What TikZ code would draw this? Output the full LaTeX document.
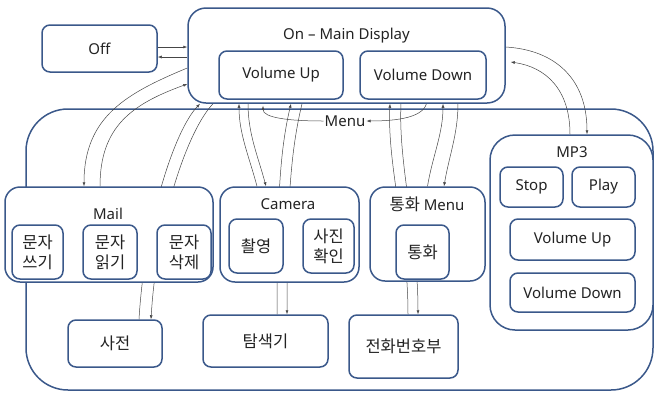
\documentclass[tikz,border=0pt]{standalone}
\usepackage{fontspec}
\setmainfont{Noto Sans}
\newfontfamily\kr{Noto Sans CJK KR}
\usetikzlibrary{arrows.meta}
\definecolor{boxblue}{RGB}{58,88,138}
\definecolor{wire}{RGB}{70,70,70}
\definecolor{ink}{RGB}{35,35,35}
\pgfdeclarelayer{bg}
\pgfdeclarelayer{wires}
\pgfsetlayers{bg,wires,main}
\begin{document}
\begin{tikzpicture}[x=1pt,y=-1pt,
  box/.style={draw=boxblue, line width=1.5pt, fill=white, rounded corners=8pt,
    inner sep=0pt, text=ink, font=\fontsize{15}{18}\selectfont},
  group/.style={box, rounded corners=15pt},
  kbox/.style={box, font=\kr\fontsize{16.5}{20}\selectfont, align=center},
  lbl/.style={text=ink, font=\fontsize{15}{18}\selectfont, inner sep=1pt},
  wirearrow/.style={draw=wire, line width=0.5pt, -{Latex[length=4pt,width=3pt]}},
]
\useasboundingbox (0,0) rectangle (654,392);

% outer frame holding the menu tree
\begin{pgfonlayer}{bg}
  \draw[draw=boxblue, line width=1.5pt, rounded corners=42pt] (26,109) rectangle (653,390);
\end{pgfonlayer}

% power states
\node[box, minimum width=115, minimum height=47] (off) at (99.5,48.5) {Off};
\node[group, rounded corners=18pt, minimum width=317, minimum height=95] (main) at (346.5,55.5) {};
\node[lbl] (mainlbl) at (346.5,36) {On – Main Display};
\node[box, minimum width=124, minimum height=48] (volup) at (281,75) {Volume Up};
\node[box, minimum width=126, minimum height=48] (voldown) at (423,75) {Volume Down};
\node[lbl] (menu) at (345,121) {Menu};

% mail
\node[group, minimum width=208, minimum height=95] (mail) at (109,234.5) {};
\node[lbl] (maillbl) at (108,214) {Mail};
\node[kbox, minimum width=51, minimum height=54] (write) at (37.5,252) {문자\\쓰기};
\node[kbox, minimum width=54, minimum height=54] (read) at (110,252) {문자\\읽기};
\node[kbox, minimum width=54, minimum height=54] (del) at (184,252) {문자\\삭제};

% camera
\node[group, minimum width=139, minimum height=95] (cam) at (289.5,234.5) {};
\node[lbl] (camlbl) at (288,204) {Camera};
\node[kbox, minimum width=54, minimum height=54] (shoot) at (256,246) {촬영};
\node[kbox, minimum width=51, minimum height=54] (photo) at (328.5,246) {사진\\확인};

% call menu
\node[group, minimum width=115, minimum height=94] (call) at (427.5,234) {};
\node[lbl] (calllbl) at (427,204) {{\kr\fontsize{16.5}{18}\selectfont 통화} Menu};
\node[kbox, minimum width=53, minimum height=54] (dial) at (422.5,252) {통화};

% mp3 player
\node[group, rounded corners=25pt, minimum width=163, minimum height=195] (mp3) at (571.5,232.5) {};
\node[lbl] (mp3lbl) at (572,152) {MP3};
\node[box, minimum width=63, minimum height=40] (stop) at (531.5,187) {Stop};
\node[box, minimum width=63, minimum height=40] (play) at (603.5,187) {Play};
\node[box, minimum width=125, minimum height=41] (mvu) at (572.5,239.5) {Volume Up};
\node[box, minimum width=125, minimum height=39] (mvd) at (572.5,292.5) {Volume Down};

% tools
\node[kbox, minimum width=94, minimum height=47] (dict) at (115,343.5) {사전};
\node[kbox, minimum width=125, minimum height=52] (expl) at (265.5,341) {탐색기};
\node[kbox, minimum width=109, minimum height=63] (phone) at (403.5,346.5) {전화번호부};

% transitions
\begin{pgfonlayer}{wires}
  \draw[wirearrow] ([yshift=1.5pt]off.east) -- ([yshift=1.5pt]off.east -| main.west);
  \draw[wirearrow] ([yshift=-8.5pt]off.east -| main.west) -- ([yshift=-8.5pt]off.east);

  \draw[wirearrow] ([yshift=-12.5pt]main.west) .. controls +(-60,25) and +(0,-70) .. ([xshift=-25pt]mail.north);
  \draw[wirearrow] ([xshift=-9pt]mail.north) .. controls +(0,-60) and +(-55,20) .. ([yshift=-28.5pt]main.west);

  \draw[wirearrow] ([xshift=24pt]dict.north) .. controls +(6,-100) and +(-25,26) .. ([xshift=-146.5pt]main.south);
  \draw[wirearrow] ([xshift=-133.5pt]main.south) .. controls +(-25,26) and +(6,-100) .. ([xshift=36pt]dict.north);

  \draw[wirearrow] ([xshift=-32.5pt]cam.north) .. controls +(-8,-30) and +(0,30) .. ([xshift=-107.5pt]main.south);
  \draw[wirearrow] ([xshift=-98.5pt]main.south) .. controls +(0,30) and +(-8,-30) .. ([xshift=-23.5pt]cam.north);

  \draw[wirearrow] ([xshift=11.5pt]expl.north) .. controls +(0,-115) and +(-11,46) .. ([xshift=-55.5pt]main.south);
  \draw[wirearrow] ([xshift=-44.5pt]main.south) .. controls +(-11,46) and +(0,-115) .. ([xshift=21.5pt]expl.north);

  \draw[wirearrow] ([xshift=4.5pt]phone.north) .. controls +(0,-80) and +(-3,60) .. ([xshift=43.5pt]main.south);
  \draw[wirearrow] ([xshift=54.5pt]main.south) .. controls +(-3,60) and +(0,-80) .. ([xshift=14.5pt]phone.north);

  \draw[wirearrow] (call.north) .. controls +(5,-30) and +(0,30) .. ([xshift=96.5pt]main.south);
  \draw[wirearrow] ([xshift=111.5pt]main.south) .. controls +(0,30) and +(5,-30) .. ([xshift=16.5pt]call.north);

  \draw[wirearrow] ([xshift=4pt]voldown.south) .. controls +(0,18) and +(30,0) .. (menu.east);
  \draw[wirearrow] (menu.west) .. controls +(-35,0) and +(0,12) .. ([xshift=-18pt,yshift=-6pt]volup.south);

  \draw[wirearrow] ([yshift=8.5pt]main.east) .. controls +(50,3) and +(0,-55) .. ([xshift=15.5pt]mp3.north);
  \draw[wirearrow] ([xshift=-1.5pt]mp3.north) .. controls +(0,-45) and +(35,5) .. ([xshift=5pt,yshift=-6.5pt]main.east);
\end{pgfonlayer}
\end{tikzpicture}
\end{document}
